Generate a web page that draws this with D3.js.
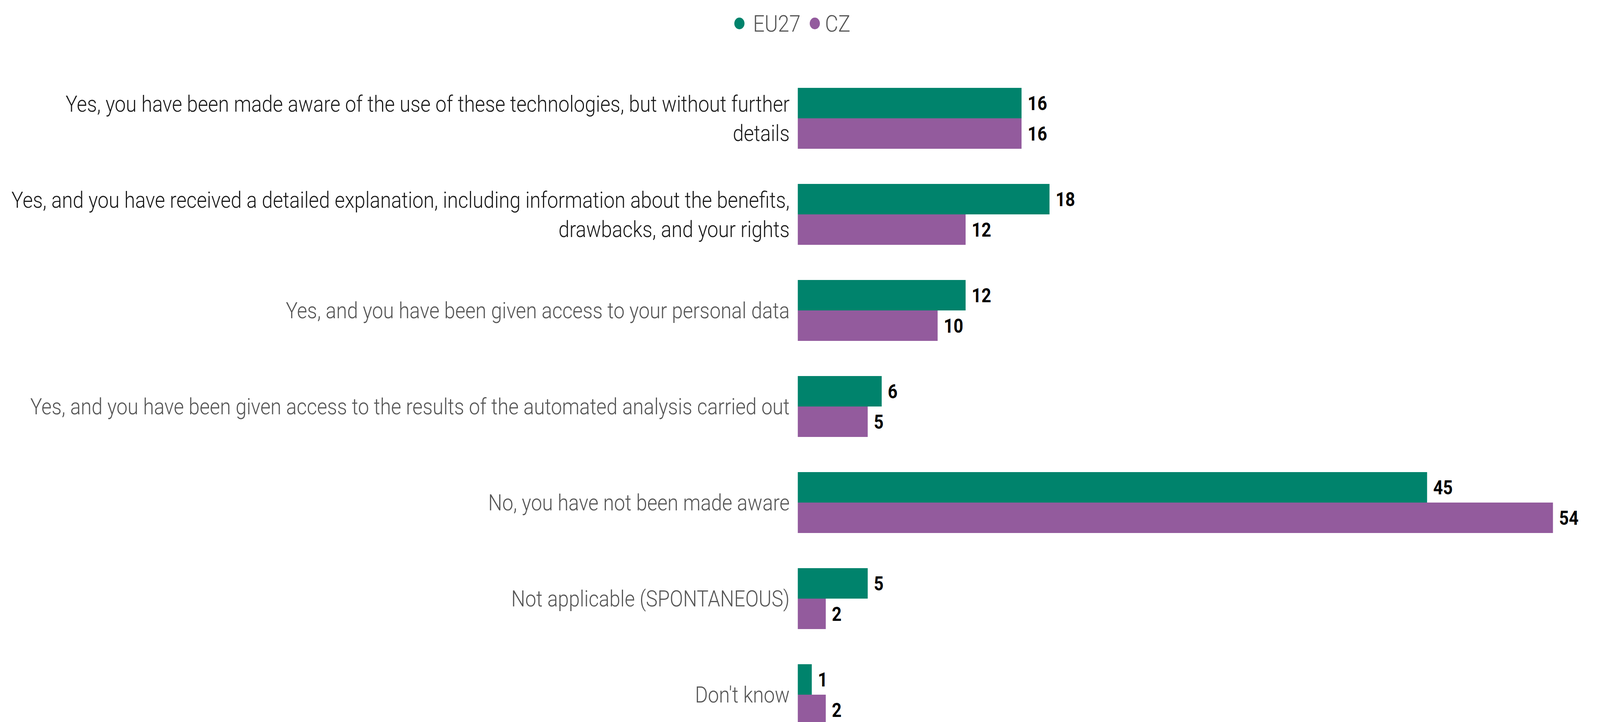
<!DOCTYPE html>
<html>
<head>
<meta charset="utf-8">
<script src="https://cdn.jsdelivr.net/npm/d3@7"></script>
<style>
  html, body { margin: 0; padding: 0; background: #fff; overflow: hidden; }
  svg { display: block; }
</style>
</head>
<body>
<div id="chart"></div>
<script>
// line breaks follow the original wrapping
const categories = [
  'Yes, you have been made aware of the use of these technologies, but without further\ndetails',
  'Yes, and you have received a detailed explanation, including information about the benefits,\ndrawbacks, and your rights',
  'Yes, and you have been given access to your personal data',
  'Yes, and you have been given access to the results of the automated analysis carried out',
  'No, you have not been made aware',
  'Not applicable (SPONTANEOUS)',
  "Don't know"
];
const seriesNames = ['EU27', 'CZ'];
const eu27Values = [16, 18, 12, 6, 45, 5, 1];
const czValues = [16, 12, 10, 5, 54, 2, 2];
const seriesColors = ['#00836c', '#935b9d'];
// the first two labels are printed darker in the original
const labelColors = ['#1a1a1a', '#1a1a1a', '#555', '#555', '#555', '#555', '#555'];

const W = 4713, H = 1849;
const font = 'Roboto, "Open Sans", sans-serif';

// drawn in a fixed 4713x1849 frame, stretched to whatever the window gives
const svg = d3.select('#chart').append('svg')
  .attr('width', window.innerWidth || W)
  .attr('height', window.innerHeight || H)
  .attr('viewBox', `0 0 ${W} ${H}`)
  .attr('preserveAspectRatio', 'none');

const rows = categories.map((c, i) => ({
  cat: c, idx: i,
  vals: [eu27Values[i], czValues[i]]
}));

const x = d3.scaleLinear().domain([0, 57]).range([2350, 4698]);
const y = d3.scaleBand().domain(categories).range([180, 1902])
  .paddingInner(0.366).paddingOuter(0.183);
const ys = d3.scaleBand().domain(seriesNames).range([0, y.bandwidth()]);
const color = d3.scaleOrdinal().domain(seriesNames).range(seriesColors);

// legend
const legend = svg.append('g').attr('transform', 'translate(0,60)');
let lx = 2178;
seriesNames.forEach((s, i) => {
  legend.append('circle').attr('cx', lx).attr('cy', 0).attr('r', 15).attr('fill', color(s));
  const t = legend.append('text')
    .attr('x', lx + (i === 0 ? 40 : 30)).attr('y', 0).attr('dy', '0.35em')
    .attr('font-family', font).attr('font-weight', 300).attr('font-size', 60)
    .attr('fill', '#555').text(s);
  lx += (i === 0 ? 40 : 30) + t.node().getComputedTextLength() + 42;
});

// bars
const groups = svg.append('g').selectAll('g')
  .data(rows).enter().append('g')
  .attr('transform', d => `translate(0,${y(d.cat)})`);

groups.selectAll('rect')
  .data(d => d.vals.map((v, k) => ({ s: seriesNames[k], v })))
  .enter().append('rect')
  .attr('x', x(0))
  .attr('y', d => ys(d.s))
  .attr('width', d => x(d.v) - x(0))
  .attr('height', ys.bandwidth())
  .attr('fill', d => color(d.s));

groups.selectAll('text.val')
  .data(d => d.vals.map((v, k) => ({ s: seriesNames[k], v })))
  .enter().append('text')
  .attr('class', 'val')
  .attr('x', d => x(d.v) + 18)
  .attr('y', d => ys(d.s) + ys.bandwidth() / 2)
  .attr('dy', '0.36em')
  .attr('font-family', font).attr('font-weight', 700).attr('font-size', 50)
  .attr('fill', '#000')
  .text(d => d.v);

// category labels, right aligned, centred on the group
const lineH = 75;
svg.append('g').selectAll('text')
  .data(rows).enter().append('text')
  .attr('text-anchor', 'end')
  .attr('font-family', font).attr('font-weight', 300).attr('font-size', 58)
  .attr('fill', d => labelColors[d.idx])
  .each(function (d) {
    const lines = d.cat.split('\n');
    const cy = y(d.cat) + y.bandwidth() / 2;
    const top = cy - (lines.length - 1) * lineH / 2;
    lines.forEach((ln, j) => {
      d3.select(this).append('tspan')
        .attr('x', 2326).attr('y', top + j * lineH).attr('dy', '0.35em')
        .text(ln);
    });
  });
</script>
</body>
</html>
